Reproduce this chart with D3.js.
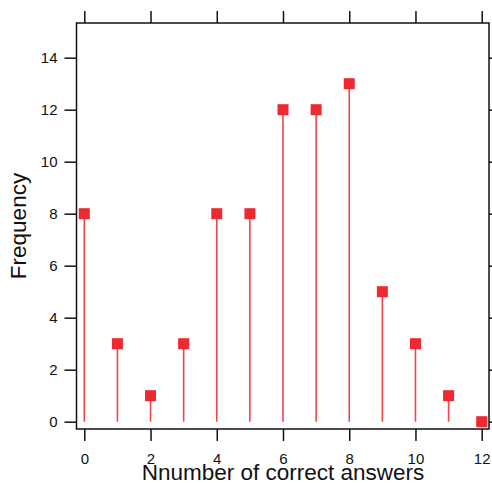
<!DOCTYPE html>
<html>
<head>
<meta charset="utf-8">
<script src="https://cdn.jsdelivr.net/npm/d3@7"></script>
<style>
  body { margin: 0; background: #fff; }
  text { font-family: "Liberation Sans", Arial, sans-serif; fill: #111; }
</style>
</head>
<body>
<div id="viz"></div>
<script>
// chart data
const answers = [0, 1, 2, 3, 4, 5, 6, 7, 8, 9, 10, 11, 12];
const frequency = [8, 3, 1, 3, 8, 8, 12, 12, 13, 5, 3, 1, 0];
const xTicks = [0, 2, 4, 6, 8, 10, 12];
const yTicks = [0, 2, 4, 6, 8, 10, 12, 14];

const width = 492, height = 483;
const box = { left: 76.5, top: 23, right: 489, bottom: 429 };

const svg = d3.select("#viz").append("svg")
    .attr("width", width)
    .attr("height", height);

const x = d3.scaleLinear().domain([0, 12]).range([84.3, 481.7]);
const y = d3.scaleLinear().domain([0, 14]).range([421.7, 57.7]);

// frame
svg.append("rect")
    .attr("x", box.left).attr("y", box.top)
    .attr("width", box.right - box.left)
    .attr("height", box.bottom - box.top)
    .attr("fill", "none")
    .attr("stroke", "#111")
    .attr("stroke-width", 1.5);

// axes
const tickLen = 12;
const bottomAxis = svg.append("g")
    .attr("transform", `translate(0,${box.bottom})`)
    .call(d3.axisBottom(x).tickValues(xTicks).tickSize(tickLen).tickPadding(12).tickFormat(d3.format("d")));
const topAxis = svg.append("g")
    .attr("transform", `translate(0,${box.top})`)
    .call(d3.axisTop(x).tickValues(xTicks).tickSize(tickLen).tickFormat(""));
const leftAxis = svg.append("g")
    .attr("transform", `translate(${box.left},0)`)
    .call(d3.axisLeft(y).tickValues(yTicks).tickSize(tickLen).tickPadding(7).tickFormat(d3.format("d")));
const rightAxis = svg.append("g")
    .attr("transform", `translate(${box.right},0)`)
    .call(d3.axisRight(y).tickValues(yTicks).tickSize(tickLen).tickFormat(""));

[bottomAxis, topAxis, leftAxis, rightAxis].forEach(a => {
    a.select(".domain").remove();
    a.selectAll(".tick line").attr("stroke", "#111").attr("stroke-width", 1.5);
    a.selectAll(".tick text").attr("font-size", 15).attr("fill", "#111")
        .attr("font-family", "Liberation Sans Narrow, Liberation Sans, Arial, sans-serif");
});

// stems
svg.append("g").selectAll("line")
    .data(answers)
    .join("line")
    .attr("x1", d => x(d))
    .attr("x2", d => x(d))
    .attr("y1", y(0))
    .attr("y2", (d, i) => y(frequency[i]))
    .attr("stroke", "#f0454a")
    .attr("stroke-width", 1.6);

// markers
const s = 11;
svg.append("g").selectAll("rect")
    .data(answers)
    .join("rect")
    .attr("x", d => x(d) - s / 2)
    .attr("y", (d, i) => y(frequency[i]) - s / 2)
    .attr("width", s)
    .attr("height", s)
    .attr("fill", "#ee2a30");

// axis titles (drawn before nothing else overlaps them)
svg.append("text")
    .attr("x", 283)
    .attr("y", 480)
    .attr("text-anchor", "middle")
    .attr("font-size", 22.5)
    .text("Nnumber of correct answers");

svg.append("text")
    .attr("transform", "translate(26,226) rotate(-90)")
    .attr("text-anchor", "middle")
    .attr("font-size", 22.5)
    .text("Frequency");
</script>
</body>
</html>
